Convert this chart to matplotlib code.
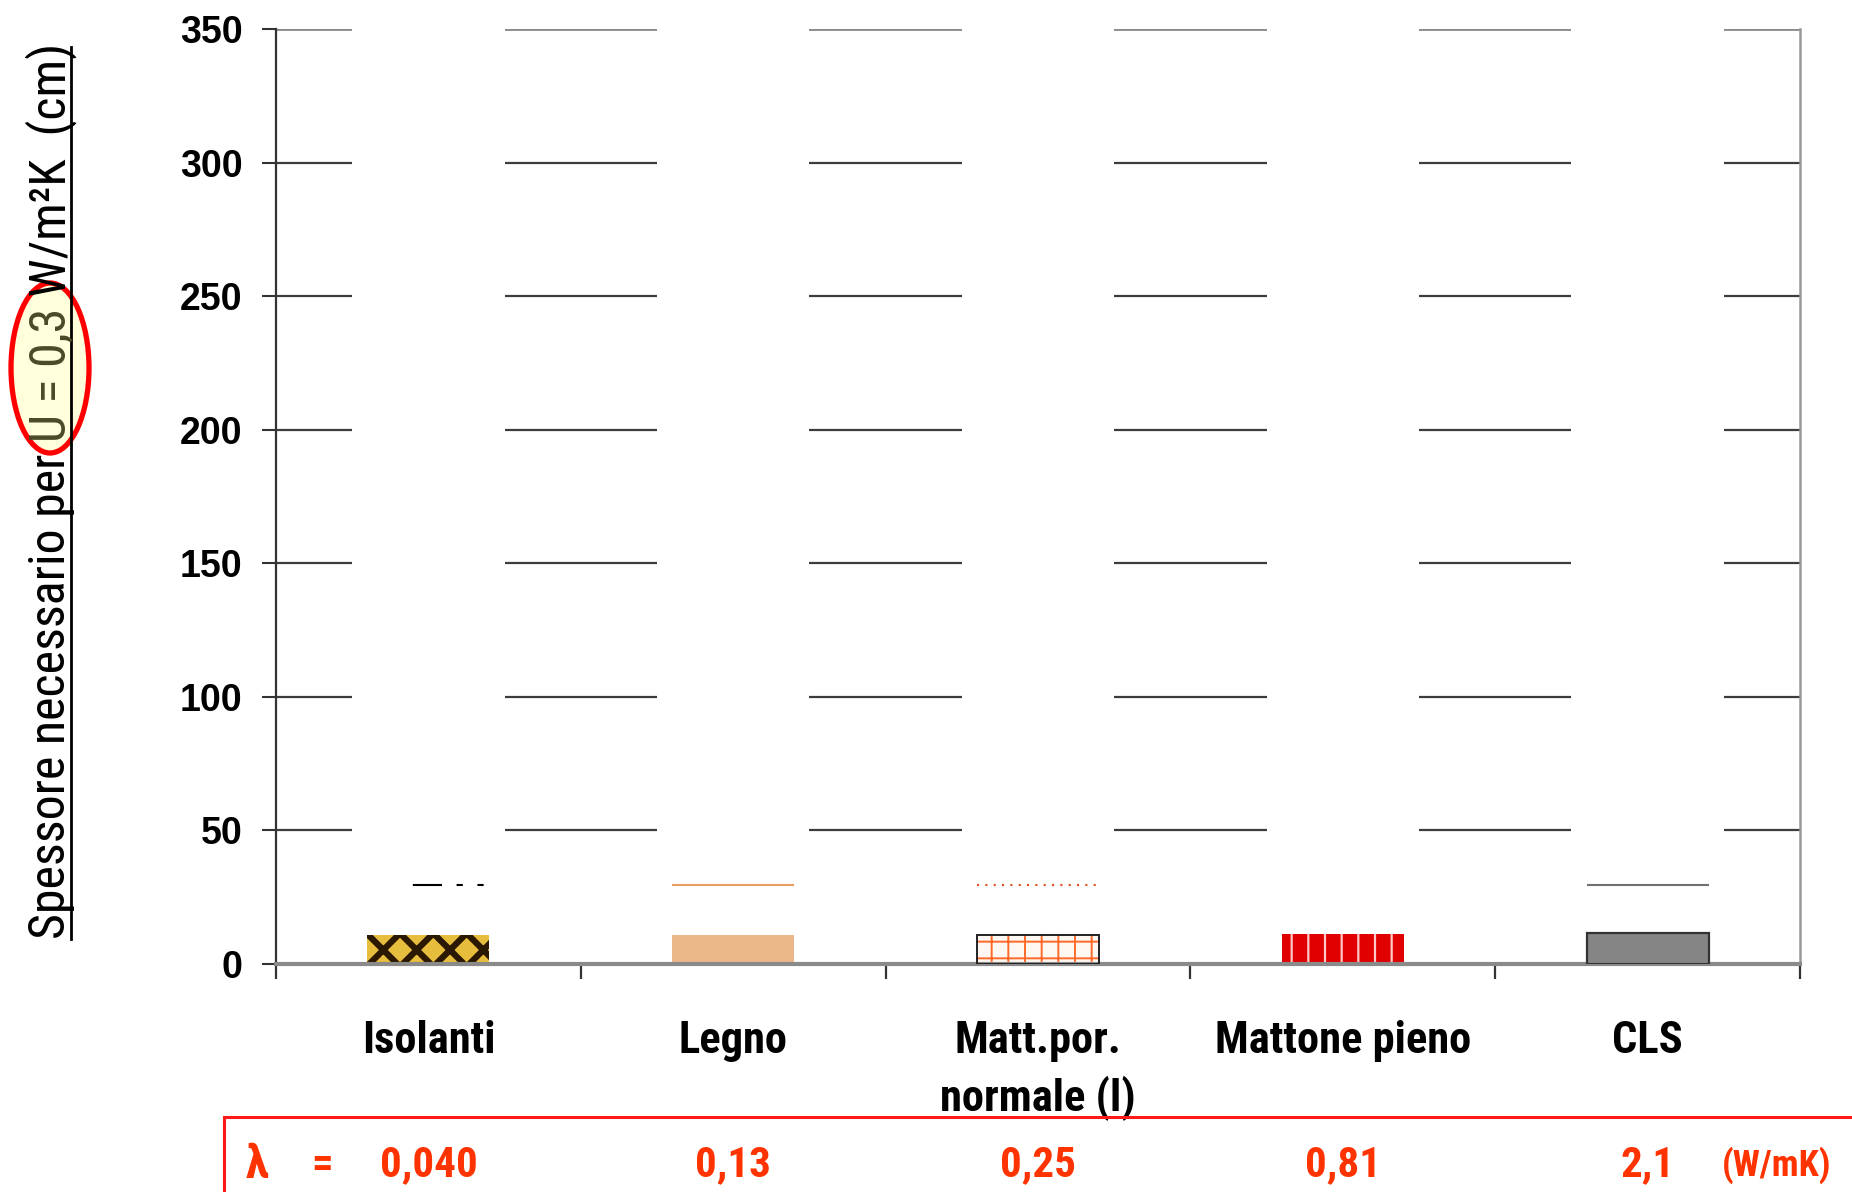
import os
import matplotlib
matplotlib.use("Agg")
import matplotlib.pyplot as plt
from matplotlib import font_manager as fm
from matplotlib.patches import Ellipse
from matplotlib.lines import Line2D
from matplotlib.transforms import blended_transform_factory

# dati
categorie = ["Isolanti", "Legno", "Matt.por.\nnormale (l)", "Mattone pieno", "CLS"]
spessori = [10.8, 10.8, 10.8, 11.3, 11.7]  # cm
lambda_vals = ["0,040", "0,13", "0,25", "0,81", "2,1"]
y_ticks = [0, 50, 100, 150, 200, 250, 300, 350]
livello_residuo = 29.5  # traccia sottile rimasta sopra le barre

# stile barre
colori = ["#e6bd3c", "#ebb88a", "#fff8f2", "#e00000", "#858585"]
tratteggi = ["x", None, "+", "|", None]
col_tratteggio = ["#2a1800", None, "#ff6a2a", "#ffc8c8", None]
lw_tratteggio = [4.5, 1, 1.4, 1.6, 1]
col_residuo = ["black", "#e8a060", "#e05020", None, "#707070"]
ls_residuo = [(0, (0, 22, 14, 7, 3, 7, 3, 400)), "-", (0, (1, 3)), "-", "-"]

rosso = "#ff3300"


# cerca un carattere stretto (tipo Arial Narrow) tra quelli installati
def cerca_font(modelli):
    files = {os.path.basename(f.fname).lower(): f.fname for f in fm.fontManager.ttflist}
    for m in modelli:
        for nome, path in files.items():
            if m in nome:
                return path
    return None


narrow_bold = cerca_font(["liberationsansnarrow-bold.", "arialnb", "arial narrow bold",
                          "notosans-condensedbold", "robotocondensed-bold",
                          "opensans-condbold", "opensans_condensed-bold"])
narrow_reg = cerca_font(["liberationsansnarrow-regular.", "arialn.", "notosans-condensed.",
                         "notosans-condensedregular", "robotocondensed-regular"])


def fp_bold(size_narrow, size_fallback):
    if narrow_bold:
        return fm.FontProperties(fname=narrow_bold, size=size_narrow)
    return fm.FontProperties(family=["Liberation Sans", "DejaVu Sans"], weight="bold",
                             size=size_fallback)


def fp_reg(size_narrow, size_fallback):
    if narrow_reg:
        return fm.FontProperties(fname=narrow_reg, size=size_narrow)
    return fm.FontProperties(family=["Liberation Sans", "DejaVu Sans"], size=size_fallback)


W, H = 1852, 1192
fig = plt.figure(figsize=(W / 100, H / 100), dpi=100)
ax = fig.add_axes([276 / W, 1 - 964 / H, (1800 - 276) / W, (964 - 29) / H])

x = list(range(len(categorie)))
larg = 0.4

for i in x:
    with plt.rc_context({"hatch.linewidth": lw_tratteggio[i]}):
        b = ax.bar(i, spessori[i], width=larg, color=colori[i],
                   hatch=tratteggi[i],
                   edgecolor=col_tratteggio[i] if tratteggi[i] else "none",
                   linewidth=0, zorder=2)
    for p in b:
        if hasattr(p, "set_hatch_linewidth"):
            p.set_hatch_linewidth(lw_tratteggio[i])

# bordi neri per Matt.por. e CLS
ax.bar(2, spessori[2], width=larg, fill=False, edgecolor="#222222", linewidth=1.4, zorder=3)
ax.bar(4, spessori[4], width=larg, fill=False, edgecolor="#333333", linewidth=1.6, zorder=3)

# riquadri bianchi che interrompono la griglia
ax.bar(x, [400 - livello_residuo] * len(x), bottom=livello_residuo, width=0.5,
       color="white", linewidth=0, zorder=1, clip_on=False)

for i in x:
    if col_residuo[i]:
        ax.hlines(livello_residuo, i - larg / 2, i + larg / 2, colors=col_residuo[i],
                  linestyles=ls_residuo[i], linewidth=1.5, zorder=3)

ax.set_xlim(-0.5, len(x) - 0.5)
ax.set_ylim(0, 350)
ax.set_yticks(y_ticks)
ax.set_yticklabels([str(v) for v in y_ticks], fontsize=27, fontweight="bold",
                   family=["Liberation Sans", "DejaVu Sans"])
ax.tick_params(axis="y", direction="out", length=10, width=1.5, pad=14, color="#333333")

ax.set_xticks(x)
ax.set_xticklabels(categorie, fontproperties=fp_bold(32, 28), linespacing=1.42)
ax.set_xticks([v - 0.5 for v in x] + [len(x) - 0.5], minor=True)
ax.tick_params(axis="x", which="major", length=0, pad=40)
ax.tick_params(axis="x", which="minor", direction="out", length=11, width=1.6,
               color="#333333")

ax.set_axisbelow(True)
ax.yaxis.grid(True, color="#3c3c3c", linewidth=1.6)
ax.get_ygridlines()[-1].set_color("#8a8a8a")
ax.get_ygridlines()[-1].set_linewidth(2)

ax.spines["top"].set_visible(False)
ax.spines["left"].set_color("#333333")
ax.spines["left"].set_linewidth(1.6)
ax.spines["right"].set_color("#999999")
ax.spines["right"].set_linewidth(1.8)
ax.spines["bottom"].set_color("#8a8a8a")
ax.spines["bottom"].set_linewidth(3)

# etichetta asse y, in tre pezzi
r = fig.canvas.get_renderer()
pezzi = ["Spessore necessario per ", "U = 0,3", " W/m\u00b2K  (cm)"]
colori_pezzi = ["black", "#4a4a28", "black"]
fp_y = fp_reg(36, 31)
xb = 65 / W
yb = 1 - 939 / H
for testo, col in zip(pezzi, colori_pezzi):
    t = fig.text(xb, yb, testo, rotation=90, rotation_mode="anchor", ha="left",
                 va="baseline", fontproperties=fp_y, color=col, zorder=3)
    bb = t.get_window_extent(renderer=r)
    yb = bb.y1 / H
fig.add_artist(Line2D([71 / W, 71 / W], [1 - 939 / H, 1 - 47 / H], color="black",
                      linewidth=2, zorder=2))
fig.add_artist(Ellipse((50 / W, 1 - 368 / H), 78 / W, 170 / H, facecolor="#ffffdc",
                       edgecolor="#ff0000", linewidth=3.8, zorder=1))

# riquadro rosso con i valori di lambda
fig.add_artist(Line2D([224 / W, 1], [1 - 1117 / H, 1 - 1117 / H], color="#ff1a1a",
                      linewidth=2.2))
fig.add_artist(Line2D([224 / W, 224 / W], [0, 1 - 1117 / H], color="#ff1a1a",
                      linewidth=2.2))
y_lam = 1 - 1165 / H
fp_lam = fp_bold(31, 28)
fig.text(257 / W, y_lam, "\u03bb", fontproperties=fp_bold(34, 30), color=rosso,
         ha="center", va="center")
fig.text(322 / W, y_lam, "=", fontproperties=fp_lam, color=rosso,
         ha="center", va="center")
tr = blended_transform_factory(ax.transData, fig.transFigure)
for i, v in zip(x, lambda_vals):
    ax.text(i, y_lam, v, transform=tr, fontproperties=fp_lam, color=rosso,
            ha="center", va="center", clip_on=False)
fig.text(1777 / W, y_lam, "(W/mK)", fontproperties=fp_bold(26, 22), color=rosso,
         ha="center", va="center")

fig.savefig("out.png", dpi=100)
